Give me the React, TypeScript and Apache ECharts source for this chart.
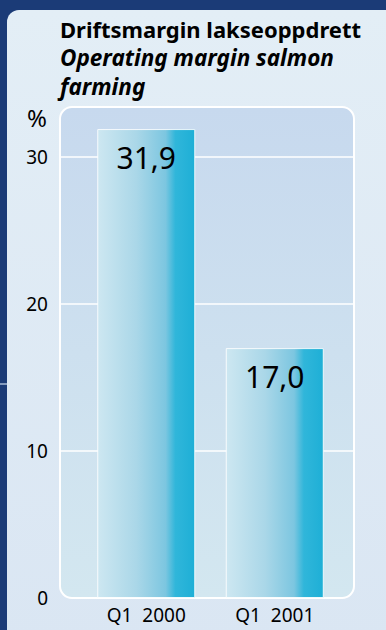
import React, { useEffect, useRef } from "react";
import * as echarts from "echarts";

const categories = ["Q1  2000", "Q1  2001"];
const values = [31.9, 17.0];
const valueLabels = ["31,9", "17,0"];
const yTicks = [0, 10, 20, 30];
const titleMain = "Driftsmargin lakseoppdrett";
const titleSub = "Operating margin salmon\nfarming";
const unitLabel = "%";

const FONT = "'Noto Sans', 'DejaVu Sans', sans-serif";

export default function App() {
  const ref = useRef<HTMLDivElement>(null);
  useEffect(() => {
    document.body.style.margin = "0";
    const chart = echarts.init(ref.current!, null, { renderer: "svg" });
    const barGrad = new echarts.graphic.LinearGradient(0, 0, 1, 0, [
      { offset: 0, color: "#cde7f1" },
      { offset: 0.4, color: "#aad7e8" },
      { offset: 0.7, color: "#7cc6e0" },
      { offset: 0.8, color: "#30b6da" },
      { offset: 1, color: "#1eafd6" },
    ]);
    const option: any = {
      animation: false,
      backgroundColor: "#1b3b77",
      textStyle: { fontFamily: FONT },
      title: {
        left: 60,
        top: 15,
        padding: 0,
        itemGap: 0,
        text: titleMain,
        textStyle: { fontFamily: FONT, fontSize: 22, fontWeight: "bold", color: "#000", lineHeight: 28 },
        subtext: titleSub,
        subtextStyle: { fontFamily: FONT, fontSize: 22.5, fontWeight: "bold", fontStyle: "italic", color: "#000", lineHeight: 29 },
      },
      graphic: [
        {
          type: "rect",
          z: -10,
          shape: { x: 7, y: 10, width: 392, height: 632, r: 12 },
          style: {
            fill: new echarts.graphic.LinearGradient(0, 0, 0, 1, [
              { offset: 0, color: "#e3eef6" },
              { offset: 1, color: "#dae6f3" },
            ]),
          },
        },
        {
          type: "line",
          z: -10,
          shape: { x1: 0, y1: 384, x2: 7, y2: 384 },
          style: { stroke: "#a9bcd6", lineWidth: 1.5 },
        },
        {
          type: "rect",
          z: -9,
          shape: { x: 60, y: 107, width: 294, height: 491, r: 12 },
          style: {
            fill: new echarts.graphic.LinearGradient(0, 0, 0, 1, [
              { offset: 0, color: "#c7d9ee" },
              { offset: 1, color: "#d3e7f0" },
            ]),
            stroke: "#ffffff",
            lineWidth: 2,
          },
        },
        {
          type: "text",
          z: 5,
          style: {
            text: unitLabel,
            x: 37,
            y: 117,
            align: "center",
            verticalAlign: "middle",
            fontSize: 24,
            fontFamily: FONT,
            fill: "#000",
          },
        },
      ],
      grid: [
        { left: 60, right: 32, top: 157, bottom: 32 },
        { left: 82, right: 47, top: 157, bottom: 32 },
      ],
      xAxis: [
        { type: "category", gridIndex: 0, data: categories, show: false },
        {
          type: "category",
          gridIndex: 1,
          data: categories,
          axisLine: { show: false },
          axisTick: { show: false },
          axisLabel: { color: "#000", fontSize: 19, fontFamily: FONT, margin: 7 },
        },
      ],
      yAxis: [
        {
          type: "value",
          gridIndex: 0,
          min: yTicks[0],
          max: yTicks[yTicks.length - 1],
          interval: 10,
          axisLine: { show: false },
          axisTick: { show: false },
          axisLabel: { color: "#000", fontSize: 19, fontFamily: FONT, margin: 12 },
          splitLine: { showMinLine: false, lineStyle: { color: "#ffffff", width: 1.5 } },
        },
        {
          type: "value",
          gridIndex: 1,
          min: yTicks[0],
          max: yTicks[yTicks.length - 1],
          interval: 10,
          show: false,
          splitLine: { show: false },
        },
      ],
      series: [
        {
          type: "bar",
          xAxisIndex: 1,
          yAxisIndex: 1,
          clip: false,
          barWidth: 98,
          data: values,
          itemStyle: { color: barGrad, borderColor: "rgba(255,255,255,0.85)", borderWidth: 1 },
          label: {
            show: true,
            position: ["50%", 28],
            align: "center",
            verticalAlign: "middle",
            fontSize: 30,
            fontFamily: FONT,
            color: "#000",
            formatter: (p: any) => valueLabels[p.dataIndex],
          },
        },
      ],
    };
    chart.setOption(option);
    return () => chart.dispose();
  }, []);
  return <div ref={ref} style={{ width: 386, height: 630 }} />;
}
